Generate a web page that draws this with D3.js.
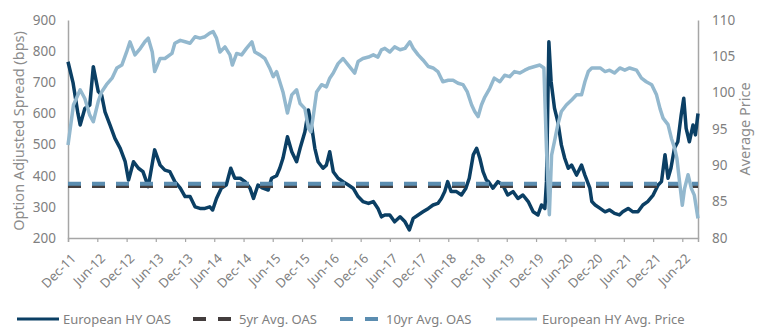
<!DOCTYPE html>
<html>
<head>
<meta charset="utf-8">
<script src="https://cdn.jsdelivr.net/npm/d3@7"></script>
<style>
  html, body { margin: 0; padding: 0; background: #ffffff; }
  svg { display: block; }
  text { font-family: "Noto Sans", "Open Sans", sans-serif; }
</style>
</head>
<body>
<svg id="chart" width="759" height="328"></svg>
<script>
// ---------------- DATA ----------------
const oasDates = ["2011-12-01","2012-01-01","2012-02-01","2012-02-15","2012-03-15","2012-04-15","2012-05-07","2012-06-07","2012-06-28","2012-07-19","2012-08-19","2012-09-19","2012-10-22","2012-11-22","2012-12-13","2013-01-13","2013-02-13","2013-03-13","2013-04-15","2013-05-25","2013-06-28","2013-07-28","2013-08-28","2013-09-28","2013-11-01","2013-12-01","2014-01-01","2014-02-01","2014-03-04","2014-04-04","2014-05-04","2014-05-22","2014-06-15","2014-07-15","2014-08-15","2014-09-12","2014-10-07","2014-11-10","2014-12-10","2015-01-10","2015-02-01","2015-03-01","2015-04-01","2015-05-04","2015-05-25","2015-06-25","2015-07-15","2015-08-04","2015-09-01","2015-09-28","2015-10-28","2015-11-19","2015-12-19","2016-01-10","2016-02-01","2016-02-19","2016-03-10","2016-04-10","2016-05-01","2016-05-22","2016-06-13","2016-07-13","2016-08-13","2016-09-15","2016-10-15","2016-11-15","2016-12-15","2017-01-19","2017-02-18","2017-03-19","2017-04-10","2017-05-01","2017-06-01","2017-07-01","2017-08-04","2017-09-04","2017-10-01","2017-10-25","2017-11-25","2017-12-25","2018-01-28","2018-02-26","2018-03-28","2018-04-19","2018-05-10","2018-05-28","2018-06-19","2018-07-22","2018-08-22","2018-09-19","2018-10-10","2018-11-04","2018-11-25","2018-12-15","2019-01-04","2019-01-25","2019-02-07","2019-03-07","2019-04-07","2019-05-07","2019-06-07","2019-07-10","2019-08-10","2019-09-10","2019-10-13","2019-11-13","2019-12-13","2020-01-04","2020-01-25","2020-02-04","2020-02-19","2020-03-04","2020-03-25","2020-04-15","2020-05-07","2020-05-28","2020-06-19","2020-07-10","2020-08-10","2020-09-10","2020-10-01","2020-11-01","2020-11-13","2020-12-04","2021-01-04","2021-02-04","2021-03-04","2021-04-04","2021-05-04","2021-05-25","2021-06-28","2021-07-28","2021-08-28","2021-09-28","2021-10-28","2021-12-01","2022-01-01","2022-01-22","2022-02-13","2022-03-04","2022-03-22","2022-04-13","2022-05-04","2022-05-25","2022-06-10","2022-06-25","2022-07-15","2022-08-07","2022-08-22","2022-09-07"];
const oasValues = [766,700,600,563,616,627,750,670,659,605,563,520,488,445,386,445,424,413,365,483,434,418,413,381,360,333,333,300,295,295,300,290,327,360,370,424,392,392,381,360,327,370,360,354,392,400,424,456,525,477,445,488,541,611,552,488,445,424,434,477,413,392,381,370,360,333,317,311,317,295,268,274,274,252,268,252,226,263,274,284,295,306,311,327,349,381,349,349,338,360,392,467,488,456,413,386,381,360,381,370,338,349,327,338,317,284,274,306,295,381,830,702,617,573,499,456,424,434,402,434,402,360,317,306,295,284,290,279,274,284,295,284,284,306,317,338,370,381,467,392,424,488,509,595,649,552,509,563,531,600];

const priceDates = ["2011-12-01","2012-01-04","2012-02-15","2012-03-15","2012-04-15","2012-05-07","2012-06-07","2012-06-28","2012-07-28","2012-09-01","2012-10-01","2012-11-01","2012-12-01","2012-12-22","2013-01-22","2013-02-25","2013-03-25","2013-04-15","2013-05-10","2013-05-25","2013-06-28","2013-07-28","2013-09-10","2013-09-28","2013-11-01","2013-12-01","2014-01-01","2014-02-01","2014-03-04","2014-04-04","2014-05-04","2014-05-25","2014-06-15","2014-07-07","2014-08-07","2014-09-07","2014-09-22","2014-10-19","2014-11-19","2014-12-19","2015-01-22","2015-02-09","2015-03-13","2015-04-13","2015-05-13","2015-06-04","2015-06-25","2015-07-15","2015-08-04","2015-09-01","2015-09-28","2015-10-28","2015-11-19","2015-12-19","2016-01-10","2016-01-25","2016-02-10","2016-03-01","2016-04-01","2016-05-01","2016-05-22","2016-06-13","2016-07-13","2016-08-13","2016-09-15","2016-10-25","2016-11-15","2016-12-15","2017-01-19","2017-02-18","2017-03-19","2017-04-10","2017-05-01","2017-06-01","2017-07-01","2017-08-04","2017-09-04","2017-10-04","2017-10-25","2017-11-25","2017-12-25","2018-01-28","2018-02-26","2018-03-28","2018-04-28","2018-06-01","2018-07-01","2018-08-01","2018-09-01","2018-09-28","2018-10-25","2018-11-13","2018-12-04","2018-12-25","2019-01-15","2019-02-15","2019-03-15","2019-04-19","2019-05-19","2019-06-19","2019-07-19","2019-08-22","2019-09-22","2019-10-22","2019-11-22","2019-12-25","2020-01-19","2020-02-04","2020-02-22","2020-03-07","2020-03-25","2020-04-15","2020-05-07","2020-06-07","2020-07-10","2020-08-10","2020-09-10","2020-10-01","2020-10-22","2020-11-13","2020-12-01","2021-01-04","2021-02-04","2021-03-04","2021-04-04","2021-05-07","2021-06-07","2021-07-07","2021-08-19","2021-09-19","2021-10-19","2021-11-22","2021-12-22","2022-01-13","2022-02-01","2022-03-04","2022-03-25","2022-04-15","2022-04-28","2022-05-15","2022-06-01","2022-06-15","2022-07-07","2022-07-28","2022-08-15","2022-09-07"];
const priceValues = [92.8,98.3,100.4,99.2,96.9,96,98.8,100.1,101.1,102,103.4,103.8,105.6,107,105.2,106.1,107,107.5,105.6,102.9,104.7,104.7,105.4,106.8,107.2,107,106.8,107.7,107.5,107.7,108.2,108.4,107.5,105.6,106.3,105.2,103.8,105.4,105.2,106.1,107,105.6,105.2,104.7,103.4,102.2,102.9,101.5,100.1,97.2,99.7,100.4,98.5,97.8,95.1,94.6,96.9,100.1,101.1,100.8,102,102.7,104,104.7,103.8,102.7,104.3,104.7,104.9,105.2,104.9,105.9,106.1,105.6,106.3,105.9,106.1,107,106.1,105.2,104.5,103.6,103.4,102.9,101.5,101.7,101.7,101.3,101.1,100.1,98.3,97.4,96.7,98.3,99.4,100.6,102,101.5,102.4,102.2,102.9,102.7,103.1,103.4,103.6,103.8,103.4,92.3,83.2,91.4,93.3,95.6,97.4,98.3,99,99.7,99.7,101.5,102.9,103.4,103.4,103.4,102.9,103.1,102.7,103.4,103.1,103.4,103.1,102,101.5,101.1,99.7,97.8,96.5,95.6,93.7,92.3,91,87.7,84.5,86.8,88.7,86.8,85.9,82.7];

const avg5yr = 367;
const avg10yr = 374;

const xTickDates = ["2011-12-01","2012-06-01","2012-12-01","2013-06-01","2013-12-01","2014-06-01","2014-12-01","2015-06-01","2015-12-01","2016-06-01","2016-12-01","2017-06-01","2017-12-01","2018-06-01","2018-12-01","2019-06-01","2019-12-01","2020-06-01","2020-12-01","2021-06-01","2021-12-01","2022-06-01"];
const leftTicks = [200,300,400,500,600,700,800,900];
const rightTicks = [80,85,90,95,100,105,110];

const seriesNames = ["European HY OAS","5yr Avg. OAS","10yr Avg. OAS","European HY Avg. Price"];
const seriesColors = ["#0b3f64","#433d3d","#5b8db0","#93b8ce"];

// ---------------- CHART ----------------
const parse = d3.timeParse("%Y-%m-%d");
const svg = d3.select("#chart");
const L = 68, R = 698, T = 20, B = 238;
const axisGray = "#a6a6a6";
const textGray = "#808080";

const x = d3.scaleTime().domain([parse("2011-12-01"), parse("2022-09-07")]).range([L, R]);
const yL = d3.scaleLinear().domain([200, 900]).range([B, T]);
const yR = d3.scaleLinear().domain([80, 110]).range([B, T]);

const oas = oasDates.map((d, i) => ({ date: parse(d), v: oasValues[i] }));
const price = priceDates.map((d, i) => ({ date: parse(d), v: priceValues[i] }));

// axes
const xAxis = d3.axisBottom(x)
  .tickValues(xTickDates.map(parse))
  .tickFormat(d3.timeFormat("%b-%y"))
  .tickSize(4);
const gx = svg.append("g").attr("transform", `translate(0,${B})`).call(xAxis);
gx.select(".domain").attr("stroke", axisGray).attr("stroke-width", 1.5);
gx.selectAll(".tick line").attr("stroke", axisGray).attr("stroke-width", 1.2);
gx.selectAll(".tick text")
  .attr("fill", textGray)
  .attr("font-size", 13)
  .attr("text-anchor", "end")
  .attr("x", 0).attr("y", 0).attr("dy", "0.35em")
  .attr("transform", "translate(5,18) rotate(-45)");

const gl = svg.append("g").attr("transform", `translate(${L},0)`)
  .call(d3.axisLeft(yL).tickValues(leftTicks).tickSize(0).tickPadding(12));
gl.select(".domain").attr("stroke", axisGray).attr("stroke-width", 1.5);
gl.selectAll(".tick text").attr("fill", textGray).attr("font-size", 13.5);

const gr = svg.append("g").attr("transform", `translate(${R},0)`)
  .call(d3.axisRight(yR).tickValues(rightTicks).tickSize(0).tickPadding(14));
gr.select(".domain").attr("stroke", axisGray).attr("stroke-width", 1.5);
gr.selectAll(".tick text").attr("fill", textGray).attr("font-size", 13.5);

// axis titles
svg.append("text")
  .attr("transform", `translate(19,${(T + B) / 2 + 2}) rotate(-90)`)
  .attr("text-anchor", "middle").attr("dy", "0.35em")
  .attr("fill", "#8c8c8c").attr("font-size", 14.5)
  .text("Option Adjusted Spread (bps)");
svg.append("text")
  .attr("transform", `translate(745,${(T + B) / 2}) rotate(-90)`)
  .attr("text-anchor", "middle").attr("dy", "0.35em")
  .attr("fill", "#8c8c8c").attr("font-size", 14.5)
  .text("Average Price");

// series
const lineL = d3.line().x(d => x(d.date)).y(d => yL(d.v));
const lineR = d3.line().x(d => x(d.date)).y(d => yR(d.v));

svg.append("path").datum(oas)
  .attr("fill", "none").attr("stroke", seriesColors[0]).attr("stroke-width", 3.5)
  .attr("stroke-linejoin", "round").attr("d", lineL);

const avgDomain = [parse("2011-12-01"), parse("2022-09-07")];
svg.append("path").datum(avgDomain.map(d => ({ date: d, v: avg5yr })))
  .attr("fill", "none").attr("stroke", seriesColors[1]).attr("stroke-width", 4)
  .attr("stroke-dasharray", "13,11").attr("d", lineL);
svg.append("path").datum(avgDomain.map(d => ({ date: d, v: avg10yr })))
  .attr("fill", "none").attr("stroke", seriesColors[2]).attr("stroke-width", 4)
  .attr("stroke-dasharray", "13,11").attr("d", lineL);

svg.append("path").datum(price)
  .attr("fill", "none").attr("stroke", seriesColors[3]).attr("stroke-width", 3.5)
  .attr("stroke-linejoin", "round").attr("d", lineR);

// legend
const legendY = 319;
const legendItems = [
  { x1: 17, x2: 59, tx: 63, dash: null },
  { x1: 193, x2: 231, tx: 239, dash: "13,12" },
  { x1: 340, x2: 378, tx: 386, dash: "13,12" },
  { x1: 496, x2: 537, tx: 542, dash: null }
];
const lg = svg.append("g");
legendItems.forEach((it, i) => {
  lg.append("line").attr("x1", it.x1).attr("x2", it.x2).attr("y1", legendY).attr("y2", legendY)
    .attr("stroke", seriesColors[i]).attr("stroke-width", it.dash ? 4 : 3)
    .attr("stroke-dasharray", it.dash);
  lg.append("text").attr("x", it.tx).attr("y", legendY).attr("dy", "0.35em")
    .attr("fill", textGray).attr("font-size", 13).text(seriesNames[i]);
});
</script>
</body>
</html>
